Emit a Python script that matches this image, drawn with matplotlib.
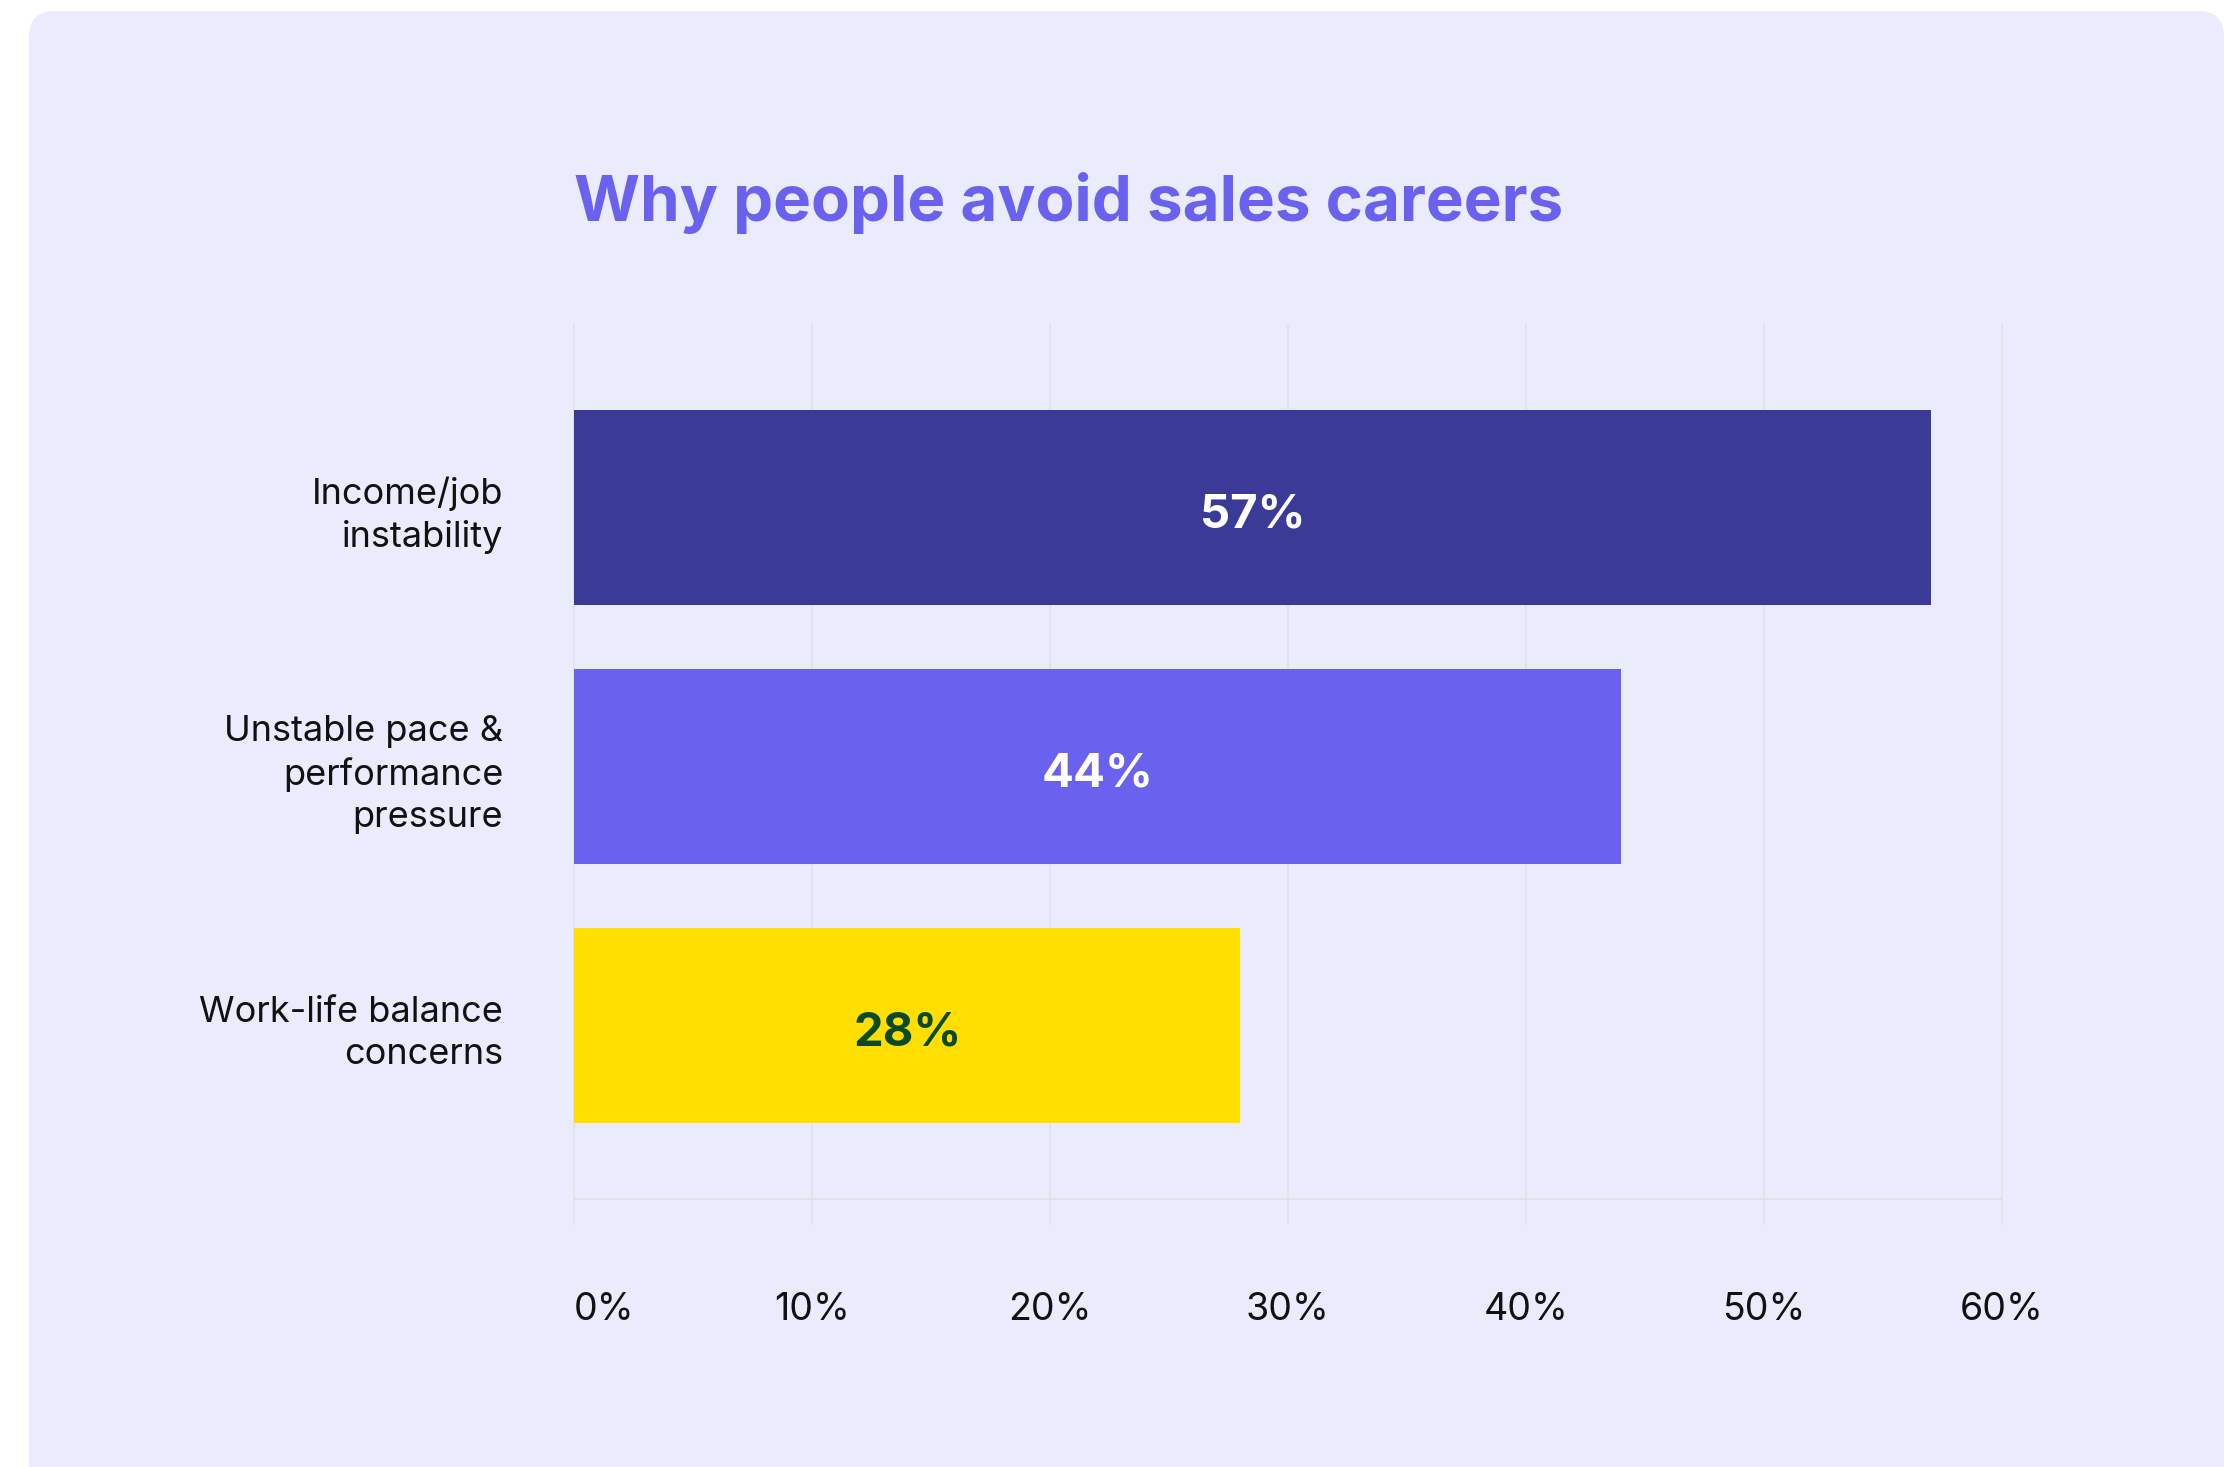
import matplotlib.pyplot as plt
from matplotlib.patches import FancyBboxPatch
from matplotlib.transforms import blended_transform_factory

plt.rcParams['font.family'] = ['Inter', 'DejaVu Sans']

title = "Why people avoid sales careers"
categories = ["Income/job\ninstability",
              "Unstable pace &\nperformance\npressure",
              "Work-life balance\nconcerns"]
values = [57, 44, 28]
x_ticks = [0, 10, 20, 30, 40, 50, 60]
tick_labels = ["0%", "10%", "20%", "30%", "40%", "50%", "60%"]

bar_colors = ["#3B3A96", "#6A62EF", "#FFDE00"]
value_colors = ["#FFFFFF", "#FFFFFF", "#0A4A24"]
panel_color = "#EAEBFC"
grid_color = "#E2E2EA"

W, H = 2238, 1467
fig = plt.figure(figsize=(W / 100, H / 100), dpi=100)
fig.patch.set_facecolor("white")

# background card, in pixel units so the corners stay round
bg = fig.add_axes([0, 0, 1, 1])
bg.set_xlim(0, W)
bg.set_ylim(H, 0)
bg.axis("off")
bg.add_patch(FancyBboxPatch((29, 11), 2195, 1490,
                            boxstyle="round,pad=0,rounding_size=26",
                            facecolor=panel_color, edgecolor="none"))

fig.text(574 / W, 1 - 221 / H, title, fontsize=45.8, fontweight="bold",
         color="#6A62EF", ha="left", va="baseline")

ax = fig.add_axes([574 / W, 1 - 1200 / H, 1428 / W, 876 / H])
ax.patch.set_alpha(0)
ypos = list(range(len(categories)))
y_top, y_bot = -0.708, 2.674

ax.set_xlim(0, 60)
ax.set_ylim(y_bot, y_top)

# vertical grid, running a bit past the baseline
ax.vlines(x_ticks, y_top, y_bot + 0.097, colors=grid_color, lw=1.3,
          zorder=0, clip_on=False)
ax.axhline(y_bot, color="#DFDFE6", lw=2.6, zorder=1)

ax.barh(ypos, values, height=0.75, color=bar_colors, zorder=2)

for y, v, c in zip(ypos, values, value_colors):
    ax.text(v / 2, y + 0.078, f"{v}%", ha="center", va="baseline",
            fontsize=34, fontweight="bold", color=c, zorder=3)

ax.set_yticks(ypos)
ax.set_yticklabels(categories, fontsize=26, color="#111111",
                   linespacing=1.34)
ax.tick_params(axis="y", length=0, pad=51)

ax.set_xticks([])
trans = blended_transform_factory(ax.transData, ax.transAxes)
for t, lab in zip(x_ticks, tick_labels):
    ax.text(t, -0.137, lab, transform=trans, fontsize=27, color="#111111",
            ha="left" if t == 0 else "center", va="baseline")

for s in ax.spines.values():
    s.set_visible(False)

fig.savefig("out.png", dpi=100)
